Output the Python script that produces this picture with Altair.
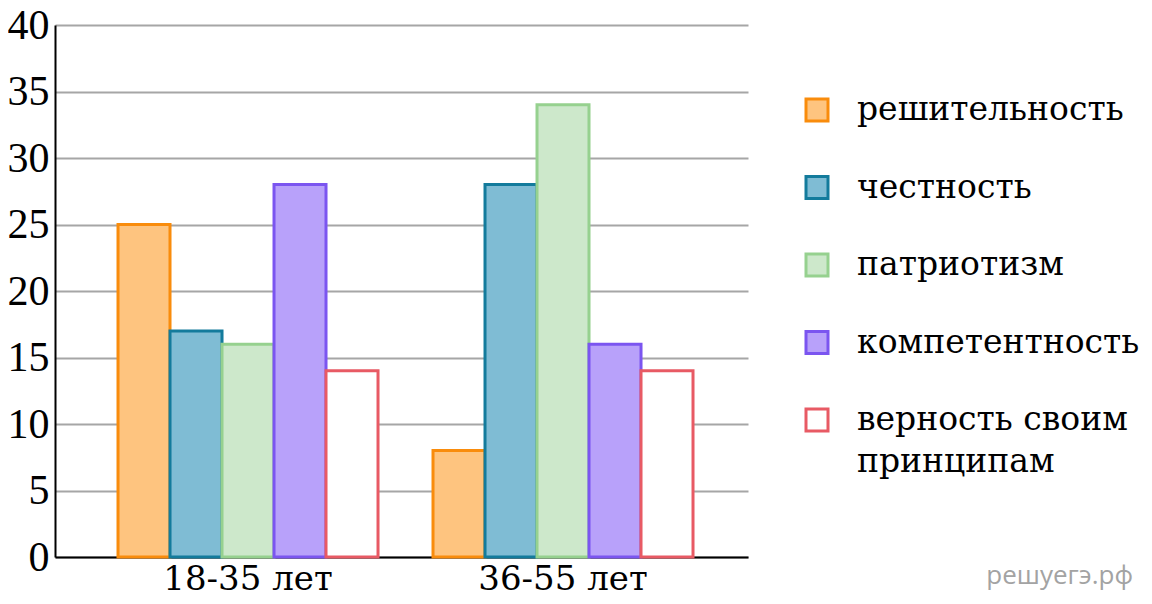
import altair as alt
import pandas as pd

groups = ["18-35 лет", "36-55 лет"]
series = ["решительность", "честность", "патриотизм", "компетентность", "верность своим принципам"]
legend_lines = [["решительность"], ["честность"], ["патриотизм"], ["компетентность"],
                ["верность своим", "принципам"]]
values_18_35 = [25, 17, 16, 28, 14]
values_36_55 = [8, 28, 34, 16, 14]
fills = ["#fec47f", "#7fbcd4", "#cde8cb", "#b8a1fa", "#ffffff"]
strokes = ["#f98c0c", "#137b9c", "#96d18f", "#7b55f0", "#e85a64"]
y_ticks = [0, 5, 10, 15, 20, 25, 30, 35, 40]

rows = []
for g, vals in zip(groups, [values_18_35, values_36_55]):
    for s, v in zip(series, vals):
        rows.append({"group": g, "series": s, "value": v})
df = pd.DataFrame(rows)
legend_df = pd.DataFrame({"series": series, "label": legend_lines})

FONT = "Liberation Serif"
CYR_FONT = "DejaVu Serif"
FS = 42
XFS = 34
LFS = 33

fill_enc = alt.Fill("series:N", sort=series, scale=alt.Scale(domain=series, range=fills), legend=None)
stroke_enc = alt.Stroke("series:N", sort=series, scale=alt.Scale(domain=series, range=strokes), legend=None)

bars = alt.Chart(df).mark_bar(strokeWidth=3, fillOpacity=1, strokeOpacity=1).encode(
    x=alt.X("group:N", sort=groups, title=None,
            scale=alt.Scale(paddingInner=0.1746, paddingOuter=0.1873, align=0.534),
            axis=alt.Axis(labelAngle=0, labelFont=CYR_FONT, labelFontSize=XFS, labelColor="black",
                          ticks=False, domain=True, domainColor="black", domainWidth=2,
                          labelPadding=5, grid=False)),
    xOffset=alt.XOffset("series:N", sort=series, scale=alt.Scale(paddingInner=0, paddingOuter=0)),
    y=alt.Y("value:Q", title=None,
            scale=alt.Scale(domain=[0, 40], nice=False),
            axis=alt.Axis(values=y_ticks, labelFont=FONT, labelFontSize=FS, labelColor="black",
                          ticks=False, domain=True, domainColor="black", domainWidth=2,
                          labelPadding=6, grid=True, gridColor="#a6a6a6", gridWidth=2)),
    fill=fill_enc,
    stroke=stroke_enc,
)

leg_y = alt.Y("series:N", sort=series, title=None, axis=None,
              scale=alt.Scale(type="point", domain=series, range=[85, 395], padding=0))

leg_sym = alt.Chart(legend_df).mark_square(size=484, strokeWidth=3, filled=True,
                                            fillOpacity=1, strokeOpacity=1).encode(
    y=leg_y, x=alt.value(762), fill=fill_enc, stroke=stroke_enc)

leg_txt = alt.Chart(legend_df).mark_text(
    align="left", baseline="middle", font=CYR_FONT, fontSize=LFS, lineHeight=42, color="black"
).encode(y=leg_y, x=alt.value(802), text="label")

wm = alt.Chart(pd.DataFrame({"t": ["решуегэ.рф"]})).mark_text(
    font="Open Sans", fontSize=26, color="#a3a3a3", align="right", baseline="middle"
).encode(text="t:N", x=alt.value(1078), y=alt.value(551))

chart = alt.layer(bars, leg_sym, leg_txt, wm).resolve_scale(y="independent").resolve_axis(
    y="independent").properties(
    width=693, height=532,
    autosize=alt.AutoSizeParams(type="none"),
    padding={"left": 47, "top": 17, "right": 396, "bottom": 45},
).configure_view(stroke=None).configure_axis(labelFlush=False)

chart.save("out.html", embed_options={"renderer": "svg", "actions": False})
